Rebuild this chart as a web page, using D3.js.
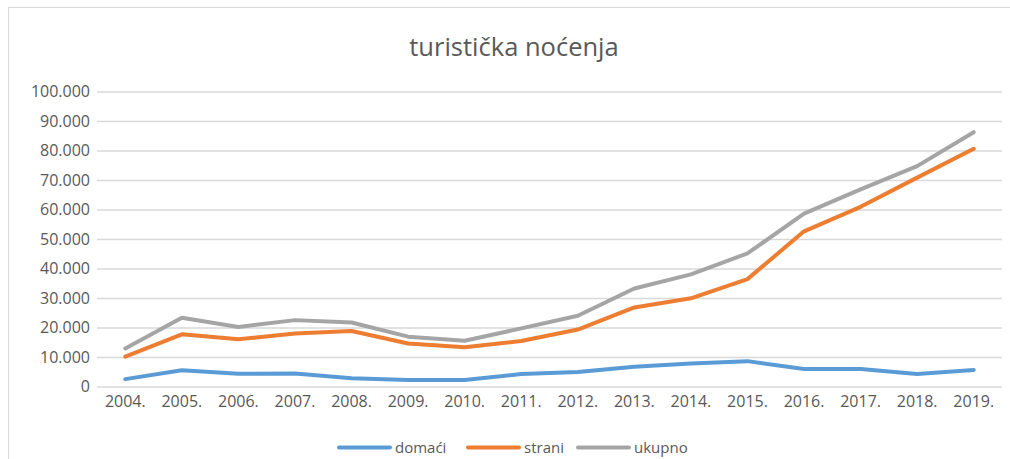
<!DOCTYPE html>
<html lang="hr">
<head>
<meta charset="UTF-8">
<title>turistička noćenja</title>
<script src="https://d3js.org/d3.v7.min.js"></script>
<style>
  body { margin: 0; background: #fff; }
  svg { display: block; font-family: "Open Sans", sans-serif; }
</style>
</head>
<body>
<div id="chart"></div>
<script>
const years = ["2004.", "2005.", "2006.", "2007.", "2008.", "2009.", "2010.", "2011.",
               "2012.", "2013.", "2014.", "2015.", "2016.", "2017.", "2018.", "2019."];
const domaci = [2500, 5500, 4300, 4400, 2800, 2200, 2200, 4200, 4900, 6700, 7800, 8600, 5900, 5900, 4200, 5600];
const strani = [10100, 17700, 16000, 18000, 18800, 14600, 13300, 15400, 19300, 26800, 29900, 36400, 52600, 60900, 70800, 80600];
const ukupno = [12900, 23300, 20200, 22500, 21700, 16900, 15500, 19700, 24000, 33200, 38000, 45100, 58600, 66800, 74700, 86200];
const seriesNames = ["domaći", "strani", "ukupno"];
const yTicks = [0, 10000, 20000, 30000, 40000, 50000, 60000, 70000, 80000, 90000, 100000];

const series = [
  { name: seriesNames[0], values: domaci, color: "#5B9BD5" },
  { name: seriesNames[1], values: strani, color: "#ED7D31" },
  { name: seriesNames[2], values: ukupno, color: "#A5A5A5" }
];

const width = 1010, height = 459;
const plot = { left: 97, right: 1002, top: 91.5, bottom: 386.5 };

const svg = d3.select("#chart").append("svg")
  .attr("width", width)
  .attr("height", height);

// chart frame
svg.append("rect")
  .attr("x", 8.5).attr("y", 7.5)
  .attr("width", 1020).attr("height", 470)
  .attr("fill", "#fff")
  .attr("stroke", "#D9D9D9");

const loc = d3.formatLocale({ decimal: ",", thousands: ".", grouping: [3], currency: ["", ""] });
const fmt = loc.format(",");

const x = d3.scaleBand()
  .domain(years)
  .range([plot.left, plot.right]);

const y = d3.scaleLinear()
  .domain([0, 100000])
  .range([plot.bottom, plot.top]);

// y axis + gridlines
const yAxis = svg.append("g")
  .attr("transform", `translate(${plot.left},0)`)
  .call(d3.axisLeft(y).tickValues(yTicks).tickFormat(fmt)
    .tickSizeInner(-(plot.right - plot.left)).tickSizeOuter(0).tickPadding(7));
yAxis.select(".domain").remove();
yAxis.selectAll("line").attr("stroke", "#D9D9D9").attr("stroke-width", 1.3);
yAxis.selectAll("text")
  .attr("fill", "#595959")
  .style("font-size", "16px")
  .style("font-family", "'Open Sans', sans-serif");

// x axis
const xAxis = svg.append("g")
  .attr("transform", `translate(0,${plot.bottom})`)
  .call(d3.axisBottom(x).tickSize(0).tickPadding(9));
xAxis.select(".domain").remove();
xAxis.selectAll("text")
  .attr("fill", "#595959")
  .style("font-size", "16px")
  .style("font-family", "'Open Sans', sans-serif");

// lines
const line = d3.line()
  .x((d, i) => x(years[i]) + x.bandwidth() / 2)
  .y(d => y(d));

svg.selectAll("path.series")
  .data(series)
  .enter().append("path")
  .attr("class", "series")
  .attr("d", d => line(d.values))
  .attr("fill", "none")
  .attr("stroke", d => d.color)
  .attr("stroke-width", 4)
  .attr("stroke-linecap", "round")
  .attr("stroke-linejoin", "round");

// title
svg.append("text")
  .attr("x", 514)
  .attr("y", 56)
  .attr("text-anchor", "middle")
  .attr("fill", "#595959")
  .style("font-size", "25.5px")
  .text("turistička noćenja");

// legend
const legendX = [339, 468, 578];
const legend = svg.selectAll("g.legend")
  .data(series)
  .enter().append("g")
  .attr("class", "legend")
  .attr("transform", (d, i) => `translate(${legendX[i]},447.5)`);

legend.append("line")
  .attr("x1", 0).attr("x2", 51)
  .attr("stroke", d => d.color)
  .attr("stroke-width", 4)
  .attr("stroke-linecap", "round");

legend.append("text")
  .attr("x", 56)
  .attr("y", 5)
  .attr("fill", "#595959")
  .style("font-size", "15px")
  .text(d => d.name);
</script>
</body>
</html>
